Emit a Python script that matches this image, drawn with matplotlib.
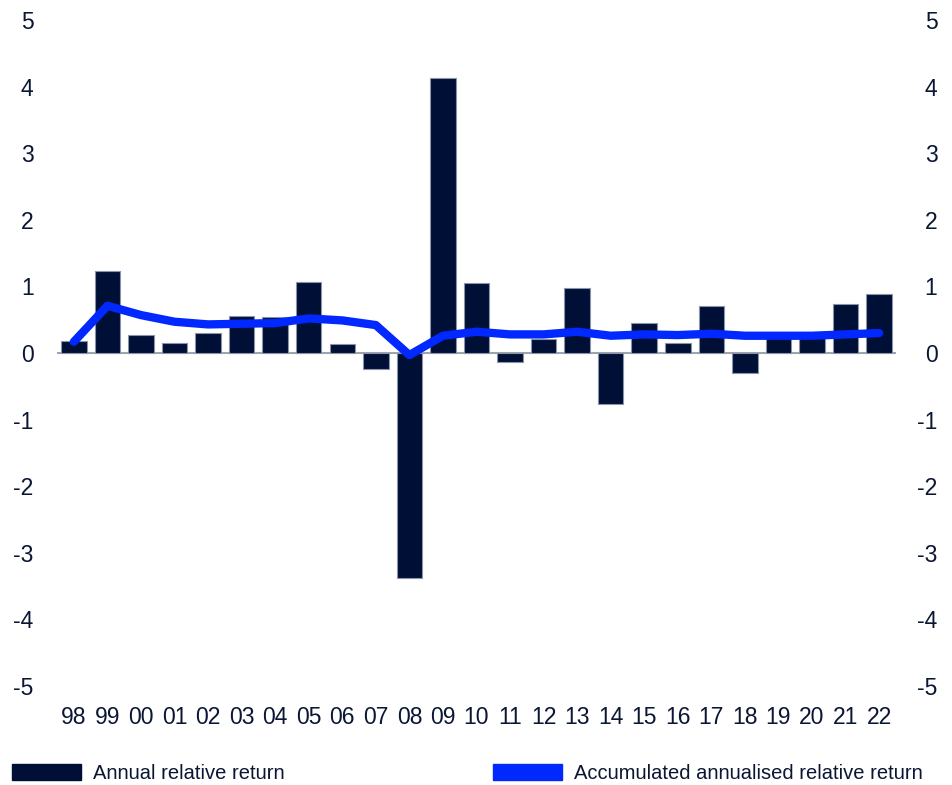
import numpy as np
import matplotlib.pyplot as plt
from matplotlib.patches import Patch

# Relative return, percentage points per year
years = ['98', '99', '00', '01', '02', '03', '04', '05', '06', '07', '08', '09',
         '10', '11', '12', '13', '14', '15', '16', '17', '18', '19', '20', '21', '22']
annual = [0.18, 1.23, 0.27, 0.15, 0.30, 0.55, 0.54, 1.06, 0.14, -0.24, -3.37, 4.13,
          1.05, -0.13, 0.21, 0.98, -0.77, 0.45, 0.15, 0.70, -0.30, 0.22, 0.22, 0.74, 0.88]
accumulated = [0.17, 0.71, 0.57, 0.47, 0.43, 0.44, 0.45, 0.52, 0.49, 0.42, -0.03, 0.26,
               0.32, 0.28, 0.28, 0.32, 0.26, 0.28, 0.27, 0.29, 0.26, 0.26, 0.26, 0.28, 0.30]
yticks = [-5, -4, -3, -2, -1, 0, 1, 2, 3, 4, 5]

navy = '#000f36'
blue = '#0028ff'
text_col = '#0a1633'

plt.rcParams['font.family'] = ['Liberation Sans', 'DejaVu Sans']

fig = plt.figure(figsize=(9.52, 7.85), dpi=100)
ax = fig.add_axes([0.060, 0.126, 0.881, 0.8485])

x = np.arange(len(years))
ax.bar(x, annual, width=0.76, color=navy, edgecolor='#8a93a8', linewidth=0.8, zorder=2)
ax.axhline(0, color='#a0a4ad', linewidth=1.5, zorder=1)
ax.plot(x, accumulated, color=blue, linewidth=6, solid_capstyle='round',
        solid_joinstyle='round', zorder=3)

ax.set_xlim(-0.5, len(years) - 0.5)
ax.set_ylim(-5, 5)
ax.set_yticks(yticks)
ax.set_yticklabels([str(t) for t in yticks])
ax.set_xticks(x)
ax.set_xticklabels(years)
ax.tick_params(axis='both', length=0, labelsize=16.5, labelcolor=text_col)
ax.tick_params(axis='y', pad=17)
ax.tick_params(axis='x', pad=14)
for s in ax.spines.values():
    s.set_visible(False)

ax2 = ax.twinx()
ax2.set_ylim(-5, 5)
ax2.set_yticks(yticks)
ax2.set_yticklabels([str(t) for t in yticks])
ax2.tick_params(axis='y', length=0, labelsize=16.5, labelcolor=text_col, pad=30)
for lbl in ax2.get_yticklabels():
    lbl.set_horizontalalignment('right')
for s in ax2.spines.values():
    s.set_visible(False)

leg_font = {'size': 14.5}
fig.legend(handles=[Patch(color=navy, label='Annual relative return')],
           loc='lower left', bbox_to_anchor=(-0.006, -0.021), frameon=False,
           prop=leg_font, handlelength=3.4, handleheight=0.85, labelcolor=text_col,
           handletextpad=0.6)
fig.legend(handles=[Patch(color=blue, label='Accumulated annualised relative return')],
           loc='lower left', bbox_to_anchor=(0.499, -0.021), frameon=False,
           prop=leg_font, handlelength=3.4, handleheight=0.85, labelcolor=text_col,
           handletextpad=0.6)

fig.savefig('out.png', dpi=100)
